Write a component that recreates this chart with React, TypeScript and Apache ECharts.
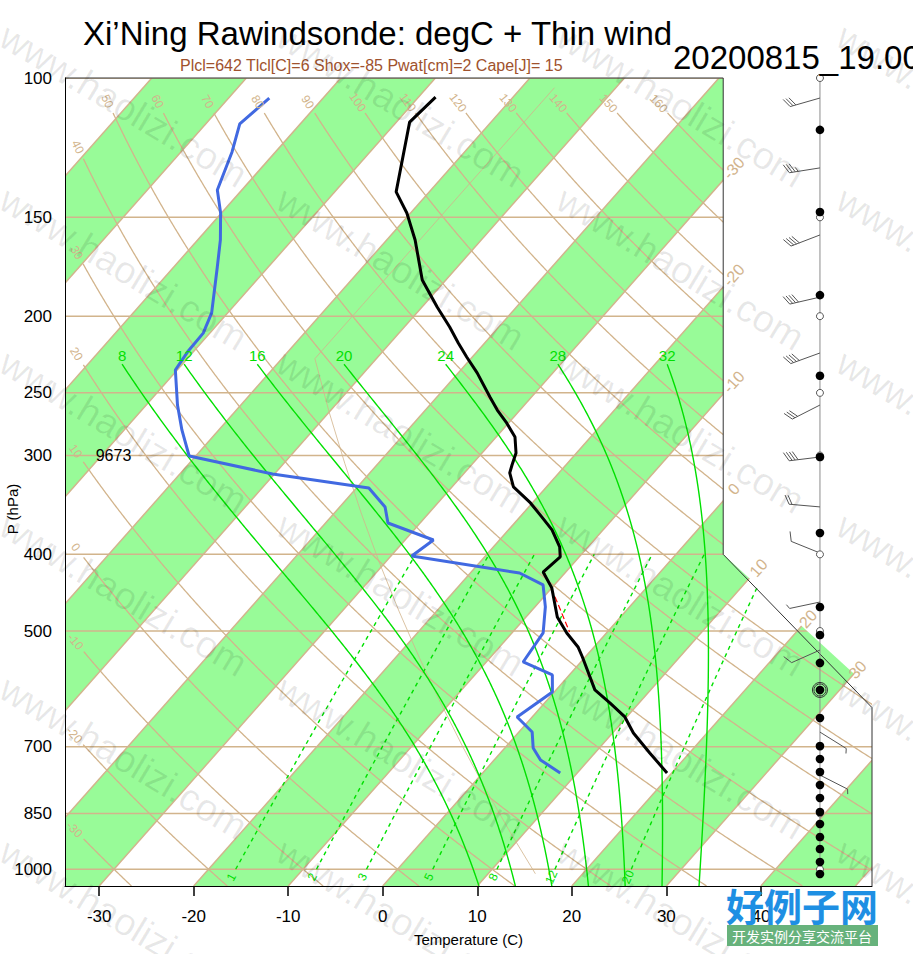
import React, { useEffect, useRef } from "react";
import * as echarts from "echarts";

type Pt = [number, number];

// ---------------- Sounding ----------------
const tempPres = [105.7, 113.7, 139.3, 148.1, 160.2, 180.0, 194.7, 206.4, 216.2, 225.2, 235.9, 253.0, 262.8, 272.9, 284.3, 297.8, 308.4, 315.6, 328.7, 344.4, 358.7, 372.5, 391.4, 403.0, 421.1, 441.0, 479.9, 502.8, 523.7, 539.2, 593.4, 616.3, 642.0, 672.6, 712.9, 755.6];
const tempC = [-68.2, -68.6, -63.5, -60.4, -57.0, -52.5, -48.4, -45.2, -42.8, -40.6, -38.0, -34.4, -32.4, -30.2, -28.0, -26.4, -25.7, -25.2, -23.5, -20.2, -17.7, -15.4, -13.0, -12.0, -12.4, -10.0, -6.7, -4.2, -1.7, -0.3, 4.1, 6.9, 9.8, 12.2, 15.8, 19.5];
const dewPres = [106.0, 114.3, 124.0, 138.5, 148.1, 160.2, 173.3, 198.1, 210.1, 222.0, 233.9, 259.0, 278.5, 300.4, 316.5, 329.7, 348.5, 365.1, 383.6, 401.9, 422.3, 437.2, 466.1, 502.8, 547.1, 568.1, 597.0, 642.0, 670.7, 702.6, 727.6, 755.6];
const dewC = [-85.7, -86.4, -84.6, -82.6, -80.1, -77.6, -75.4, -71.7, -70.7, -70.6, -70.2, -66.7, -63.9, -60.7, -50.2, -38.7, -35.2, -33.4, -27.0, -27.8, -14.8, -11.2, -8.9, -6.7, -6.1, -1.8, -0.2, -1.6, 1.4, 3.0, 4.9, 8.2];
const parcelPres = [421.1, 456.7, 501.3];
const parcelC = [-12.3, -8.4, -4.0];

// ---------------- Wind column ----------------
const windPres = [106.0, 129.9, 157.9, 189.2, 222.6, 259.0, 301.3, 348.4, 398.4, 459.5, 528.4, 670.9, 760.3];
const windDir = [254, 261, 249, 257, 250, 243, 263, 275, 292, 258, 246, 122, 117];
const windSpd = [30, 35, 40, 40, 40, 30, 40, 20, 10, 5, 10, 5, 5];
const levelDotPres = [116.3, 147.7, 188.1, 237.9, 301.3, 375.8, 466.3, 505.8, 548.6, 593.5, 643.9, 698.6, 725.5, 753.5, 782.5, 812.6, 846.4, 876.5, 910.6, 942.9, 979.0, 1013.8];
const mandatoryPres = [100, 150, 200, 250, 300, 400, 500, 700, 850, 1000];
const ringedPres = [593.5];

// ---------------- Axes ----------------
const pressureTicks = [100, 150, 200, 250, 300, 400, 500, 700, 850, 1000];
const tempTicks = [-30, -20, -10, 0, 10, 20, 30, 40];

// ---------------- Diagram reference lines ----------------
const bandStarts = [-120, -100, -80, -60, -40, -20, 0, 20, 40];
const isotherms = [-110, -100, -90, -80, -70, -60, -50, -40, -30, -20, -10, 0, 10, 20, 30, 40, 50];
const isothermLabels = [-30, -20, -10, 0, 10, 20, 30];
const dryTheta = [-30, -20, -10, 0, 10, 20, 30, 40, 50, 60, 70, 80, 90, 100, 110, 120, 130, 140, 150, 160];
const moistThetaW = [8, 12, 16, 20, 24, 28, 32];
const mixRatios = [1, 2, 3, 5, 8, 12, 20];
const stdAtmPres = [1013.25, 898.71, 794.89, 700.99, 616.29, 540.07, 471.74, 410.61, 355.98, 307.25, 264.36, 226.32, 193.3, 165.1, 141.01, 120.44, 102.87];
const stdAtmC = [15.0, 8.5, 2.0, -4.5, -11.0, -17.5, -24.0, -30.5, -37.0, -43.5, -50.0, -56.5, -56.5, -56.5, -56.5, -56.5, -56.5];

const TITLE = "Xi\u2019Ning Rawindsonde: degC + Thin wind";
const SUBTITLE = "Plcl=642 Tlcl[C]=6 Shox=-85 Pwat[cm]=2 Cape[J]= 15";
const STAMP = "20200815_19.00";
const HEIGHT_300 = "9673";

// ---------------- Skew-T geometry ----------------
const KAPPA = 0.2857;
const SKEW = 0.90692 / 0.54;
const yOfP = (p: number) => 132.182 - 44.061 * Math.log10(p);
const pOfY = (y: number) => Math.pow(10, (132.182 - y) / 44.061);
const Y_BOT = yOfP(1050);
const Y_TOP = yOfP(100);
const xFromNcl = (xn: number) => (xn - 0.90692 * Y_BOT) / 0.54;
const X_MIN = xFromNcl(-19);
const X_MAX = xFromNcl(27.1);
const X_CUT = xFromNcl(18.6);
const Y_CUT_LOW = 9.0;
const Y_CUT_HIGH = yOfP(400);
const toX = (T: number, p: number) => T + SKEW * (yOfP(p) - Y_BOT);
const pt = (T: number, p: number): Pt => [toX(T, p), yOfP(p)];
const WIND_X = 46.25;

const FONT = "'Liberation Sans', Arial, Helvetica, sans-serif";
const TAN = "#D2B48C";
const BAND = "#98FB98";
const GREEN = "#00E000";

// thermodynamics for reference curves
const RD = 287.04, CP = 1005.7, LV = 2.501e6, EPS = 0.622;
const esat = (Tc: number) => 6.112 * Math.exp((17.67 * Tc) / (Tc + 243.5));
const dTdp = (p: number, Tk: number) => {
  const es = esat(Tk - 273.15);
  const rs = (EPS * es) / (p - es);
  return (RD * Tk + LV * rs) / (p * (CP + (LV * LV * rs * EPS) / (RD * Tk * Tk)));
};
const rk4 = (p: number, T: number, h: number) => {
  const k1 = dTdp(p, T);
  const k2 = dTdp(p + h / 2, T + (h * k1) / 2);
  const k3 = dTdp(p + h / 2, T + (h * k2) / 2);
  const k4 = dTdp(p + h, T + h * k3);
  return T + (h * (k1 + 2 * k2 + 2 * k3 + k4)) / 6;
};
const MOIST_TOP = 230;
const moistLine = (tw: number): Pt[] => {
  const up: [number, number][] = [];
  let T = tw + 273.15, p = 1000;
  up.push([p, T]);
  while (p > MOIST_TOP + 1e-9) {
    const h = -Math.min(2, p - MOIST_TOP);
    T = rk4(p, T, h); p += h; up.push([p, T]);
  }
  const down: [number, number][] = [];
  T = tw + 273.15; p = 1000;
  while (p < 1050) { T = rk4(p, T, 2); p += 2; down.push([p, T]); }
  return [...down.reverse(), ...up].map(([pp, tk]) => pt(tk - 273.15, pp));
};
const mixTd = (w: number, p: number) => {
  const e = (w * p) / (622 + w);
  const l = Math.log(e / 6.112);
  return (243.5 * l) / (17.67 - l);
};
const mixLine = (w: number): Pt[] => {
  const out: Pt[] = [];
  for (let i = 0; i <= 30; i++) { const p = 1000 - i * 20; out.push(pt(mixTd(w, p), p)); }
  return out;
};
const DRY_TOP_P = 110.4;
const DRY_LEFT_X = X_MIN + 1.9;
const dryLine = (th: number): Pt[] => {
  const out: Pt[] = [];
  const N = 600;
  for (let i = 0; i <= N; i++) {
    const p = 1050 * Math.pow(100 / 1050, i / N);
    if (p < DRY_TOP_P) break;
    const T = (th + 273.15) * Math.pow(p / 1000, KAPPA) - 273.15;
    const x = toX(T, p);
    if (x < DRY_LEFT_X) break;
    out.push([x, yOfP(p)]);
  }
  return out;
};
const isothermExit = (T: number): Pt => {
  const yv = Y_BOT + (X_CUT - T) / SKEW;
  if (yv >= Y_CUT_HIGH) return [X_CUT, yv];
  const dx = X_CUT - X_MAX, dy = Y_CUT_HIGH - Y_CUT_LOW;
  const t = (T + SKEW * (Y_CUT_LOW - Y_BOT) - X_MAX) / (dx - SKEW * dy);
  return [X_MAX + t * dx, Y_CUT_LOW + t * dy];
};

function customSeries(z: number, clip: boolean, build: (api: any) => any[]) {
  return {
    type: "custom",
    coordinateSystem: "cartesian2d",
    z,
    clip,
    silent: true,
    data: [[0, 0]],
    renderItem: (_p: any, api: any) => ({ type: "group", children: build(api) }),
  };
}
const polyEl = (api: any, pts: Pt[], style: any) => ({
  type: "polyline",
  shape: { points: pts.map((q) => api.coord(q)) },
  style: { fill: "none", ...style },
});
const textEl = (x: number, y: number, text: string, color: string, size: number, rotation = 0) => ({
  type: "text",
  x, y, rotation,
  style: { text, fill: color, fontSize: size, fontFamily: FONT, align: "center", verticalAlign: "middle", textAlign: "center", textVerticalAlign: "middle" },
});

function buildOption() {
  const span = SKEW * (Y_TOP - Y_BOT);
  const bands: Pt[][] = bandStarts.map((lo) => [[lo, Y_BOT], [lo + 10, Y_BOT], [lo + 10 + span, Y_TOP], [lo + span, Y_TOP]]);
  const isoLines: Pt[][] = isotherms.map((t) => [[t, Y_BOT], [t + span, Y_TOP]]);
  const isobars: Pt[][] = pressureTicks.map((p) => [[X_MIN, yOfP(p)], [X_MAX, yOfP(p)]]);
  const dryLines = dryTheta.map(dryLine);
  const moistLines = moistThetaW.map(moistLine);
  const mixLines = mixRatios.map(mixLine);
  const stdAtm: Pt[] = stdAtmPres.map((p, i) => pt(stdAtmC[i], p));

  const series: any[] = [
    customSeries(1, true, (api) => bands.map((b) => ({ type: "polygon", shape: { points: b.map((q) => api.coord(q)) }, style: { fill: BAND } }))),
    customSeries(2, true, (api) => [
      ...isoLines.map((l) => polyEl(api, l, { stroke: TAN, lineWidth: 1.5 })),
      ...isobars.map((l) => polyEl(api, l, { stroke: TAN, lineWidth: 1.5 })),
      ...dryLines.map((l) => polyEl(api, l, { stroke: TAN, lineWidth: 1.3 })),
      polyEl(api, stdAtm, { stroke: TAN, lineWidth: 0.8 }),
    ]),
    customSeries(3, true, (api) => [
      ...moistLines.map((l) => polyEl(api, l, { stroke: GREEN, lineWidth: 1.4 })),
      ...mixLines.map((l) => polyEl(api, l, { stroke: GREEN, lineWidth: 1.4, lineDash: [4, 4] })),
    ]),
    customSeries(4, true, (api) => [
      { type: "polygon", shape: { points: ([[X_MAX + 2, Y_CUT_LOW], [X_CUT, Y_CUT_HIGH], [X_CUT, Y_TOP + 2], [X_MAX + 2, Y_TOP + 2]] as Pt[]).map((q) => api.coord(q)) }, style: { fill: "#ffffff" } },
    ]),
    customSeries(5, false, (api) => [
      polyEl(api, [[X_MIN, Y_TOP], [X_CUT, Y_TOP], [X_CUT, Y_CUT_HIGH], [X_MAX, Y_CUT_LOW], [X_MAX, Y_BOT]], { stroke: "#333", lineWidth: 1 }),
    ]),
    {
      type: "line", z: 6, silent: true, symbol: "none", clip: true,
      data: parcelPres.map((p, i) => pt(parcelC[i], p)),
      lineStyle: { color: "#ff0000", width: 1.2, type: [6, 3] },
    },
    {
      type: "line", z: 6, silent: true, symbol: "none", clip: true,
      data: dewPres.map((p, i) => pt(dewC[i], p)),
      lineStyle: { color: "#4169E1", width: 3 },
    },
    {
      type: "line", z: 6, silent: true, symbol: "none", clip: true,
      data: tempPres.map((p, i) => pt(tempC[i], p)),
      lineStyle: { color: "#000000", width: 3 },
    },
    customSeries(7, false, (api) => {
      const els: any[] = [];
      const top = api.coord([WIND_X, yOfP(100)]);
      const bot = api.coord([WIND_X, yOfP(levelDotPres[levelDotPres.length - 1])]);
      els.push({ type: "line", shape: { x1: top[0], y1: top[1], x2: bot[0], y2: bot[1] }, style: { stroke: "#8c8c8c", lineWidth: 1 } });
      windPres.forEach((p, i) => {
        const c = api.coord([WIND_X, yOfP(p)]);
        const d = (windDir[i] * Math.PI) / 180;
        const sx = Math.sin(d), sy = -Math.cos(d);
        const L = 31, F = 10, G = 3;
        const tx = c[0] + sx * L, ty = c[1] + sy * L;
        const nx = -sy, ny = sx;
        let fx = 0.48 * sx + 0.877 * nx, fy = 0.48 * sy + 0.877 * ny;
        const fl = Math.hypot(fx, fy); fx /= fl; fy /= fl;
        const st = { stroke: "#555", lineWidth: 1 };
        els.push({ type: "line", shape: { x1: c[0], y1: c[1], x2: tx, y2: ty }, style: st });
        const full = Math.floor(windSpd[i] / 10);
        const half = windSpd[i] % 10 >= 5;
        let k = 0;
        for (let j = 0; j < full; j++, k++) {
          const bx = tx - sx * G * k, by = ty - sy * G * k;
          els.push({ type: "line", shape: { x1: bx, y1: by, x2: bx + fx * F, y2: by + fy * F }, style: st });
        }
        if (half) {
          const bx = tx - sx * G * k, by = ty - sy * G * k;
          els.push({ type: "line", shape: { x1: bx, y1: by, x2: bx + (fx * F) / 2, y2: by + (fy * F) / 2 }, style: st });
        }
      });
      mandatoryPres.forEach((p) => {
        const c = api.coord([WIND_X, yOfP(p)]);
        els.push({ type: "circle", shape: { cx: c[0], cy: c[1], r: 3.5 }, style: { fill: "#fff", stroke: "#555", lineWidth: 1 } });
      });
      ringedPres.forEach((p) => {
        const c = api.coord([WIND_X, yOfP(p)]);
        els.push({ type: "circle", shape: { cx: c[0], cy: c[1], r: 7.5 }, style: { fill: "none", stroke: "#333", lineWidth: 1 } });
        els.push({ type: "circle", shape: { cx: c[0], cy: c[1], r: 6 }, style: { fill: "none", stroke: "#333", lineWidth: 1 } });
      });
      levelDotPres.forEach((p) => {
        const c = api.coord([WIND_X, yOfP(p)]);
        els.push({ type: "circle", shape: { cx: c[0], cy: c[1], r: 4.3 }, style: { fill: "#000" } });
      });
      return els;
    }),
    customSeries(8, false, (api) => {
      const els: any[] = [];
      // dry adiabat labels
      dryLines.forEach((l, i) => {
        if (l.length < 8) return;
        const E = api.coord(l[l.length - 1]);
        const B = api.coord(l[l.length - 6]);
        const dx = E[0] - B[0], dy = E[1] - B[1];
        const len = Math.hypot(dx, dy) || 1;
        const x = E[0] + (dx / len) * 13, y = E[1] + (dy / len) * 13;
        const ang = Math.atan2(-dy, -dx);
        els.push(textEl(x, y, String(dryTheta[i]), TAN, 12, -ang));
      });
      // isotherm labels on the right boundary
      isothermLabels.forEach((t) => {
        const ex = isothermExit(t);
        const E = api.coord(ex);
        const U = api.coord([ex[0] + SKEW, ex[1] + 1]);
        const dx = U[0] - E[0], dy = U[1] - E[1];
        const len = Math.hypot(dx, dy) || 1;
        const x = E[0] + (dx / len) * 16, y = E[1] + (dy / len) * 16;
        els.push(textEl(x, y, String(t), TAN, 16, -Math.atan2(dy, dx)));
      });
      // moist adiabat labels
      moistLines.forEach((l, i) => {
        const E = api.coord(l[l.length - 1]);
        els.push(textEl(E[0], E[1] - 9, String(moistThetaW[i]), GREEN, 15));
      });
      // mixing ratio labels
      mixRatios.forEach((w) => {
        const A = api.coord(pt(mixTd(w, 1023), 1023));
        const U = api.coord(pt(mixTd(w, 980), 980));
        els.push(textEl(A[0], A[1], String(w), GREEN, 12, -Math.atan2(U[1] - A[1], U[0] - A[0])));
      });
      const h = api.coord([X_MIN + 5.13, yOfP(300)]);
      els.push(textEl(h[0], h[1], HEIGHT_300, "#000", 16));
      return els;
    }),
  ];

  const graphic: any[] = [];
  const wmX = [13, 290, 570, 850];
  const wmY = [17, 180, 343, 506, 669, 832];
  wmX.forEach((x) => wmY.forEach((y) => {
    graphic.push({
      type: "text", x, y, rotation: (-31 * Math.PI) / 180, z: 200, silent: true,
      style: { text: "www.haolizi.com", fill: "rgba(0,0,0,0.09)", fontSize: 38, fontFamily: FONT, align: "left", verticalAlign: "top", textAlign: "left", textVerticalAlign: "top" },
    });
  }));
  graphic.push(
    { type: "text", x: 83, y: 33, z: 100, style: { text: TITLE, fill: "#000", fontSize: 33, fontFamily: FONT, align: "left", verticalAlign: "middle", textAlign: "left", textVerticalAlign: "middle" } },
    { type: "text", x: 180, y: 65, z: 100, style: { text: SUBTITLE, fill: "#A0522D", fontSize: 16, fontFamily: FONT, align: "left", verticalAlign: "middle", textAlign: "left", textVerticalAlign: "middle" } },
    { type: "text", x: 673, y: 57, z: 100, style: { text: STAMP, fill: "#000", fontSize: 33, fontFamily: FONT, align: "left", verticalAlign: "middle", textAlign: "left", textVerticalAlign: "middle" } },
    { type: "text", x: 12, y: 509, rotation: Math.PI / 2, z: 100, style: { text: "P (hPa)", fill: "#000", fontSize: 15, fontFamily: FONT, align: "center", verticalAlign: "middle", textAlign: "center", textVerticalAlign: "middle" } },
    { type: "text", x: 802, y: 904, z: 210, style: { text: "好例子网", fill: "#1E8FE3", fontSize: 38, fontWeight: "bold", fontFamily: "'Noto Sans CJK SC', sans-serif", align: "center", verticalAlign: "middle", textAlign: "center", textVerticalAlign: "middle" } },
    { type: "rect", shape: { x: 727, y: 925, width: 151, height: 21 }, z: 210, style: { fill: "rgba(86,170,110,0.9)" } },
    { type: "text", x: 802, y: 935.5, z: 211, style: { text: "开发实例分享交流平台", fill: "#fff", fontSize: 14, fontFamily: "'Noto Sans CJK SC', sans-serif", align: "center", verticalAlign: "middle", textAlign: "center", textVerticalAlign: "middle" } },
  );

  return {
    animation: false,
    backgroundColor: "#ffffff",
    grid: { left: 65, top: 78, width: 807, height: 808, containLabel: false, outerBoundsMode: "none" },
    xAxis: {
      type: "value", min: X_MIN, max: X_MAX, z: 10,
      axisLine: { show: true, onZero: false, lineStyle: { color: "#000", width: 1 } },
      axisTick: { show: true, customValues: tempTicks, length: 10, inside: false, lineStyle: { color: "#000", width: 1.5 } },
      axisLabel: { show: true, customValues: tempTicks, margin: 22, fontSize: 17, color: "#000", fontFamily: FONT },
      splitLine: { show: false },
      name: "Temperature (C)", nameLocation: "middle", nameGap: 46,
      nameTextStyle: { fontSize: 15, color: "#000", fontFamily: FONT },
    },
    yAxis: {
      type: "value", min: Y_BOT, max: Y_TOP, z: 10,
      axisLine: { show: true, onZero: false, lineStyle: { color: "#000", width: 1 } },
      axisTick: { show: false },
      axisLabel: {
        show: true, customValues: pressureTicks.map(yOfP), margin: 13, fontSize: 17, color: "#000", fontFamily: FONT,
        formatter: (v: number) => String(Math.round(pOfY(v))),
      },
      splitLine: { show: false },
    },
    series,
    graphic,
  };
}

export default function App() {
  const ref = useRef<HTMLDivElement>(null);
  useEffect(() => {
    document.body.style.margin = "0";
    document.body.style.overflow = "hidden";
    const chart = echarts.init(ref.current as HTMLDivElement, undefined, { renderer: "svg" });
    chart.setOption(buildOption() as any);
    return () => chart.dispose();
  }, []);
  return <div ref={ref} style={{ width: 913, height: 954 }} />;
}
